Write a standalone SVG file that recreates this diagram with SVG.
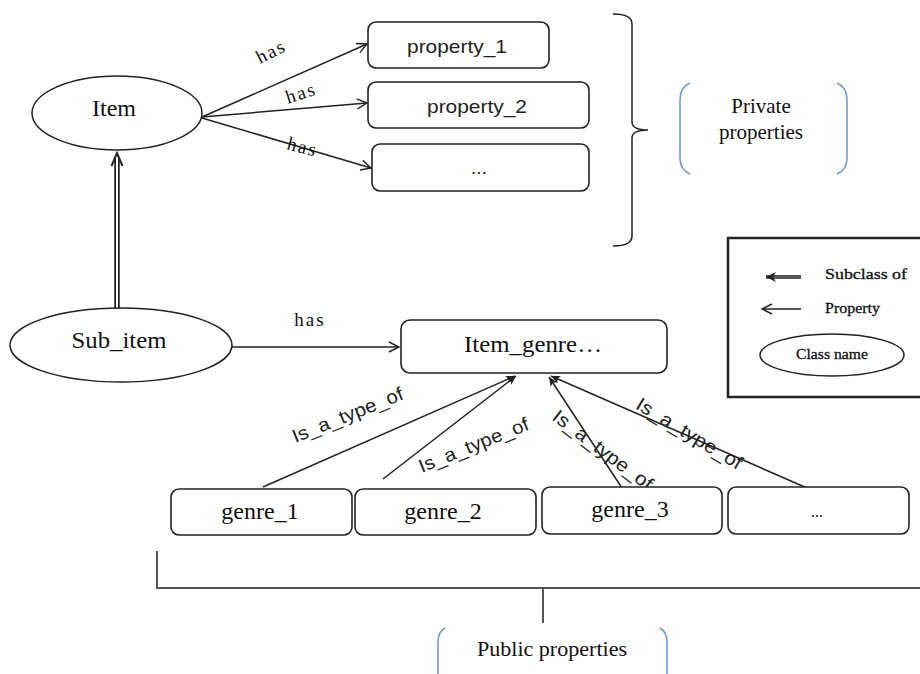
<svg xmlns="http://www.w3.org/2000/svg" width="920" height="674" viewBox="0 0 920 674">
  <defs>
    <marker id="open" markerUnits="userSpaceOnUse" markerWidth="14" markerHeight="14" refX="11" refY="6" orient="auto">
      <path d="M1,1 L11,6 L1,11" fill="none" stroke="#222" stroke-width="1.4"/>
    </marker>
    <marker id="solid" markerUnits="userSpaceOnUse" markerWidth="12" markerHeight="12" refX="9" refY="4" orient="auto">
      <path d="M0,0 L9,4 L0,8 L2,4 Z" fill="#222"/>
    </marker>
    <marker id="thick" markerUnits="userSpaceOnUse" markerWidth="14" markerHeight="14" refX="10" refY="6" orient="auto">
      <path d="M0,1 L10,6 L0,11 L3,6 Z" fill="#222"/>
    </marker>
  </defs>
  <style>
    .box { fill: #fff; stroke: #222; stroke-width: 1.6; }
    .ell { fill: #fff; stroke: #222; stroke-width: 1.5; }
    .line { fill: none; stroke: #222; stroke-width: 1.5; }
    .paren { fill: none; stroke: #6f9bd1; stroke-width: 1.6; }
    .serif { font-family: "Liberation Serif", "Times New Roman", serif; fill: #111; }
    .sans { font-family: "Liberation Sans", Arial, sans-serif; fill: #222; }
    .big { font-size: 24px; }
    .has { font-size: 19px; letter-spacing: 2px; }
    .isa { font-size: 19px; }
    .prop { font-size: 19px; }
    .note { font-size: 21px; }
    .leg { font-size: 15px; stroke: #111; stroke-width: 0.3; }
  </style>

  <rect width="920" height="674" fill="#fff"/>

  <!-- connectors -->
  <g id="connectors">
    <!-- Item has property_1 / property_2 / ... -->
    <line class="line" x1="202" y1="117" x2="367" y2="44" marker-end="url(#open)"/>
    <line class="line" x1="202" y1="117" x2="367" y2="103" marker-end="url(#open)"/>
    <line class="line" x1="202" y1="118" x2="371" y2="168" marker-end="url(#open)"/>
    <!-- Sub_item subclass of Item (double line) -->
    <path d="M117,308 L117,158" fill="none" stroke="#222" stroke-width="5.5"/>
    <path d="M117,310 L117,156" fill="none" stroke="#fff" stroke-width="2"/>
    <polyline points="111.5,166 117,153 122.5,166" fill="none" stroke="#222" stroke-width="2"/>
    <!-- Sub_item has Item_genre -->
    <line class="line" x1="232" y1="347" x2="399" y2="347" marker-end="url(#open)"/>
    <!-- genres is_a_type_of Item_genre -->
    <line class="line" x1="263" y1="487" x2="515" y2="376" marker-end="url(#solid)"/>
    <line class="line" x1="383" y1="479" x2="516" y2="376" marker-end="url(#solid)"/>
    <line class="line" x1="622" y1="488" x2="549" y2="377" marker-end="url(#solid)"/>
    <line class="line" x1="807" y1="488" x2="551" y2="376" marker-end="url(#solid)"/>

    <!-- labels -->
    <text class="serif has" text-anchor="middle" transform="translate(274,57) rotate(-27)">has</text>
    <text class="serif has" text-anchor="middle" transform="translate(303,99) rotate(-18)">has</text>
    <text class="serif has" text-anchor="middle" transform="translate(301,153) rotate(15)">has</text>
    <text class="serif has" x="310" y="326" text-anchor="middle">has</text>

    <text class="sans isa" text-anchor="middle" textLength="118" lengthAdjust="spacingAndGlyphs" transform="translate(350,421) rotate(-22)">Is_a_type_of</text>
    <text class="sans isa" text-anchor="middle" textLength="117" lengthAdjust="spacingAndGlyphs" transform="translate(476,451) rotate(-22)">Is_a_type_of</text>
    <text class="sans isa" text-anchor="middle" textLength="120" lengthAdjust="spacingAndGlyphs" transform="translate(599,455) rotate(37)">Is_a_type_of</text>
    <text class="sans isa" text-anchor="middle" textLength="120" lengthAdjust="spacingAndGlyphs" transform="translate(686,439) rotate(31)">Is_a_type_of</text>
  </g>

  <!-- class nodes -->
  <g id="item">
    <ellipse class="ell" cx="117" cy="113" rx="85" ry="37"/>
    <text class="serif big" x="114" y="116" text-anchor="middle">Item</text>
  </g>
  <g id="sub_item">
    <ellipse class="ell" cx="121" cy="345" rx="111" ry="37"/>
    <text class="serif big" x="119" y="348" text-anchor="middle" textLength="95" lengthAdjust="spacingAndGlyphs">Sub_item</text>
  </g>

  <!-- private properties -->
  <g id="property_1">
    <rect class="box" x="368" y="22" width="181" height="46" rx="8"/>
    <text class="sans prop" x="457" y="53" text-anchor="middle" textLength="100" lengthAdjust="spacingAndGlyphs">property_1</text>
  </g>
  <g id="property_2">
    <rect class="box" x="368" y="82" width="221" height="46" rx="8"/>
    <text class="sans prop" x="477" y="113" text-anchor="middle" textLength="100" lengthAdjust="spacingAndGlyphs">property_2</text>
  </g>
  <g id="property_more">
    <rect class="box" x="372" y="144" width="217" height="47" rx="8"/>
    <text class="sans prop" x="479" y="174" text-anchor="middle">...</text>
  </g>

  <g id="private_group">
    <path class="line" d="M613,14 Q632,14 632,24 L632,122 Q632,130 648,130 Q632,130 632,138 L632,236 Q632,246 613,246"/>
    <path class="paren" d="M690,83 Q680,87 680,100 L680,158 Q680,170 690,174"/>
    <path class="paren" d="M837,83 Q847,87 847,100 L847,158 Q847,170 837,174"/>
    <text class="serif note" x="761" y="113" text-anchor="middle">Private</text>
    <text class="serif note" x="761" y="139" text-anchor="middle">properties</text>
  </g>

  <!-- public properties -->
  <g id="item_genre">
    <rect class="box" x="401" y="320" width="266" height="53" rx="9"/>
    <text class="serif big" x="533" y="352" text-anchor="middle" textLength="138" lengthAdjust="spacingAndGlyphs">Item_genre…</text>
  </g>
  <g id="genre_1">
    <rect class="box" x="171" y="489" width="181" height="46" rx="8"/>
    <text class="serif big" x="260" y="519" text-anchor="middle">genre_1</text>
  </g>
  <g id="genre_2">
    <rect class="box" x="355" y="489" width="181" height="46" rx="8"/>
    <text class="serif big" x="443" y="519" text-anchor="middle">genre_2</text>
  </g>
  <g id="genre_3">
    <rect class="box" x="542" y="487" width="180" height="47" rx="8"/>
    <text class="serif big" x="630" y="517" text-anchor="middle">genre_3</text>
  </g>
  <g id="genre_more">
    <rect class="box" x="728" y="487" width="181" height="47" rx="8"/>
    <text class="serif" x="817" y="517" font-size="16" text-anchor="middle">...</text>
  </g>

  <g id="public_group">
    <path d="M157,551 L157,588 L920,588" fill="none" stroke="#555" stroke-width="2"/>
    <line x1="543" y1="588" x2="543" y2="623" stroke="#555" stroke-width="2"/>
    <path class="paren" d="M445,628 Q438,632 438,642 L438,674"/>
    <path class="paren" d="M660,628 Q667,632 667,642 L667,674"/>
    <text class="serif note" x="552" y="656" text-anchor="middle" textLength="150" lengthAdjust="spacingAndGlyphs">Public properties</text>
  </g>

  <!-- legend -->
  <g id="legend">
    <rect x="728" y="238" width="200" height="159" fill="#fff" stroke="#222" stroke-width="2.5"/>
    <line x1="801" y1="277" x2="766" y2="277" stroke="#555" stroke-width="4" marker-end="url(#thick)"/>
    <text class="serif leg" x="825" y="279" textLength="82" lengthAdjust="spacingAndGlyphs">Subclass of</text>
    <line x1="801" y1="309" x2="762" y2="309" stroke="#222" stroke-width="1.3" marker-end="url(#open)"/>
    <text class="serif leg" x="825" y="313" textLength="55" lengthAdjust="spacingAndGlyphs">Property</text>
    <ellipse class="ell" cx="832" cy="355" rx="72" ry="21"/>
    <text class="serif leg" x="832" y="359" text-anchor="middle" textLength="72" lengthAdjust="spacingAndGlyphs">Class name</text>
  </g>
</svg>
